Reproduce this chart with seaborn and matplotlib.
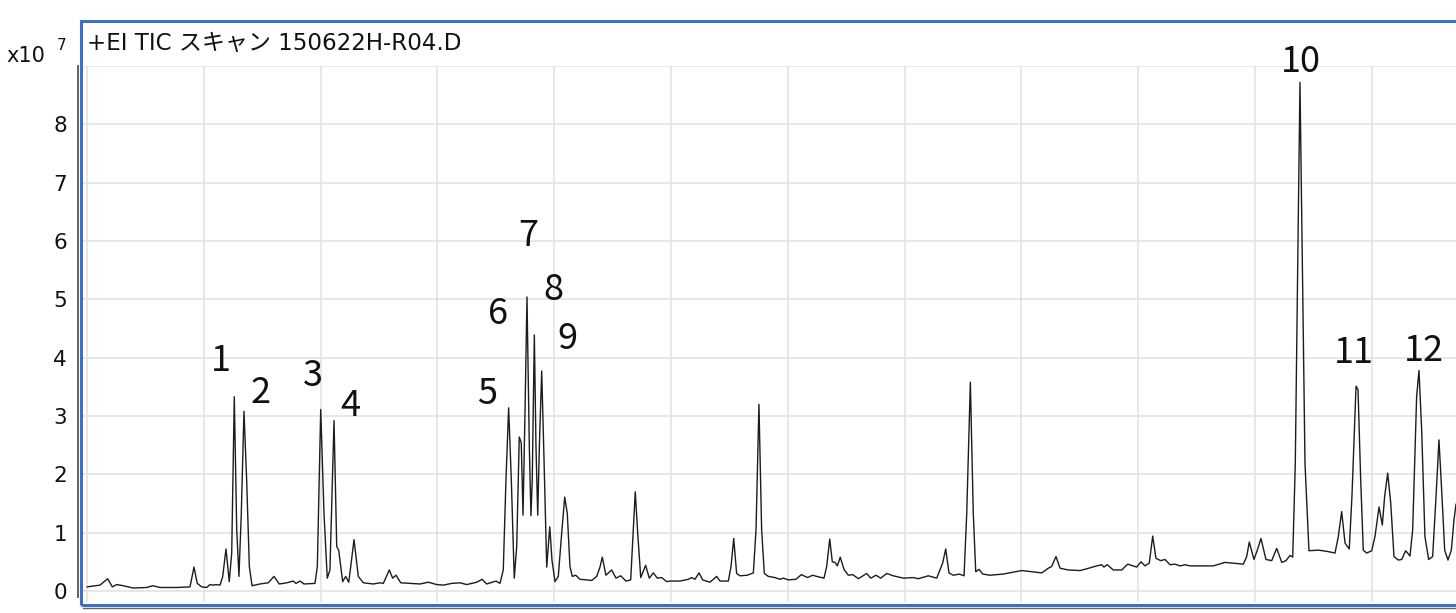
import matplotlib
matplotlib.use("Agg")
import matplotlib.pyplot as plt
from matplotlib.patches import Rectangle
import pandas as pd
import seaborn as sns

# ---------------- data ----------------
# retention time (min, grid lines at whole minutes) and TIC intensity (x10^7)
rt_min = [
    4.000, 4.111, 4.177, 4.217, 4.254, 4.311, 4.396, 4.511, 4.562, 4.625,
    4.768, 4.882, 4.916, 4.944, 4.982, 5.025, 5.053, 5.081, 5.104, 5.139,
    5.162, 5.190, 5.218, 5.239, 5.261, 5.282, 5.301, 5.321, 5.344, 5.367,
    5.390, 5.413, 5.481, 5.552, 5.601, 5.646, 5.710, 5.766, 5.789, 5.824,
    5.858, 5.952, 5.972, 6.001, 6.029, 6.057, 6.080, 6.115, 6.138, 6.155,
    6.189, 6.215, 6.241, 6.260, 6.286, 6.323, 6.366, 6.451, 6.509,
    6.537, 6.588, 6.617, 6.646, 6.686, 6.765, 6.851, 6.922, 6.994, 7.051,
    7.122, 7.193, 7.251, 7.337, 7.382, 7.422, 7.502, 7.536, 7.564, 7.587,
    7.610, 7.633, 7.658, 7.679, 7.701, 7.718, 7.733, 7.750, 7.767, 7.787,
    7.801, 7.812, 7.830, 7.844, 7.859, 7.873, 7.893, 7.910, 7.936, 7.962,
    7.981, 8.007, 8.035, 8.064, 8.090, 8.112, 8.135, 8.155, 8.184, 8.221,
    8.278, 8.321, 8.364, 8.392, 8.412, 8.443, 8.492, 8.529, 8.569, 8.615,
    8.655, 8.677, 8.694, 8.715, 8.741, 8.783, 8.814, 8.849, 8.883, 8.920,
    8.963,
    8.991, 9.077, 9.148, 9.177, 9.205, 9.240, 9.271, 9.334, 9.391, 9.419,
    9.491, 9.514, 9.537, 9.562, 9.591, 9.653, 9.705, 9.728, 9.753, 9.776,
    9.799, 9.833, 9.890, 9.933, 9.961, 10.004, 10.070, 10.116, 10.170, 10.213,
    10.247, 10.310, 10.333, 10.359, 10.381, 10.404, 10.424, 10.449, 10.481, 10.518,
    10.556, 10.604, 10.675, 10.710, 10.755, 10.795, 10.847, 10.903, 10.989, 11.074,
    11.117, 11.203, 11.275, 11.326, 11.352, 11.380, 11.417, 11.468, 11.509, 11.532,
    11.563, 11.588, 11.609, 11.637, 11.669, 11.731, 11.845, 12.003, 12.174, 12.230,
    12.259, 12.296, 12.331, 12.402, 12.502, 12.559, 12.645, 12.687, 12.707, 12.735,
    12.787, 12.859, 12.910, 12.987, 13.024, 13.058, 13.095, 13.124, 13.152, 13.193,
    13.229, 13.273, 13.315, 13.358, 13.401, 13.443, 13.643, 13.743, 13.900, 13.929,
    13.951, 13.991, 14.020, 14.051, 14.094, 14.143, 14.186, 14.229, 14.265, 14.300,
    14.323, 14.345, 14.385, 14.428, 14.462, 14.542, 14.614, 14.685, 14.713, 14.742,
    14.771, 14.807, 14.830, 14.865, 14.882, 14.905, 14.927, 14.956, 14.999, 15.027,
    15.062, 15.090, 15.110, 15.136, 15.162, 15.190, 15.227, 15.256, 15.290, 15.327,
    15.350, 15.384, 15.404, 15.427, 15.455, 15.487, 15.521, 15.550, 15.575, 15.601,
    15.624, 15.652, 15.681, 15.704, 15.721,
]
tic_e7 = [
    0.07, 0.10, 0.21, 0.07, 0.11, 0.09, 0.05, 0.06, 0.09, 0.06,
    0.06, 0.07, 0.41, 0.13, 0.07, 0.06, 0.11, 0.10, 0.11, 0.10,
    0.25, 0.72, 0.16, 0.65, 3.33, 1.05, 0.25, 1.33, 3.08, 1.90,
    0.42, 0.09, 0.12, 0.14, 0.25, 0.12, 0.14, 0.17, 0.13, 0.17,
    0.12, 0.13, 0.42, 3.11, 1.34, 0.22, 0.36, 2.92, 0.76, 0.70,
    0.16, 0.25, 0.15, 0.45, 0.88, 0.25, 0.14, 0.12, 0.14,
    0.13, 0.36, 0.22, 0.27, 0.14, 0.13, 0.12, 0.15, 0.11, 0.10,
    0.13, 0.14, 0.11, 0.15, 0.20, 0.12, 0.17, 0.13, 0.36, 1.90,
    3.14, 1.90, 0.22, 0.76, 2.64, 2.54, 1.30, 3.06, 5.04, 2.48,
    1.29, 1.90, 4.39, 2.48, 1.30, 2.48, 3.77, 2.48, 0.41, 1.10,
    0.53, 0.16, 0.25, 0.99, 1.61, 1.33, 0.42, 0.25, 0.27, 0.20,
    0.19, 0.18, 0.25, 0.41, 0.58, 0.27, 0.36, 0.22, 0.26, 0.17,
    0.19, 1.05, 1.70, 0.99, 0.23, 0.44, 0.22, 0.31, 0.22, 0.23,
    0.16,
    0.17, 0.17, 0.20, 0.23, 0.20, 0.31, 0.19, 0.15, 0.25, 0.17,
    0.17, 0.42, 0.90, 0.30, 0.26, 0.27, 0.31, 1.05, 3.20, 1.05,
    0.30, 0.25, 0.23, 0.20, 0.22, 0.19, 0.20, 0.28, 0.23, 0.27,
    0.25, 0.22, 0.42, 0.89, 0.50, 0.49, 0.43, 0.58, 0.37, 0.27,
    0.28, 0.21, 0.30, 0.22, 0.27, 0.22, 0.30, 0.26, 0.22, 0.23,
    0.21, 0.26, 0.22, 0.48, 0.72, 0.31, 0.27, 0.29, 0.26, 1.33,
    3.58, 1.33, 0.33, 0.37, 0.29, 0.27, 0.29, 0.35, 0.31, 0.39,
    0.42, 0.59, 0.39, 0.36, 0.35, 0.38, 0.43, 0.45, 0.41, 0.45,
    0.36, 0.36, 0.46, 0.41, 0.50, 0.43, 0.48, 0.94, 0.56, 0.52,
    0.54, 0.45, 0.46, 0.43, 0.45, 0.43, 0.43, 0.49, 0.46, 0.59,
    0.84, 0.54, 0.70, 0.90, 0.54, 0.52, 0.73, 0.49, 0.52, 0.61,
    0.58, 2.19, 8.72, 2.19, 0.69, 0.70, 0.68, 0.65, 0.93, 1.36,
    0.82, 0.72, 1.62, 3.51, 3.45, 1.90, 0.70, 0.65, 0.69, 0.93,
    1.44, 1.13, 1.62, 2.02, 1.51, 0.59, 0.53, 0.54, 0.69, 0.60,
    1.05, 3.34, 3.78, 2.76, 0.93, 0.54, 0.59, 1.62, 2.59, 1.62,
    0.70, 0.53, 0.70, 1.22, 1.49,
]

peak_ids = ["1", "2", "3", "4", "5", "6", "7", "8", "9", "10", "11", "12"]
peak_label_rt = [5.147, 5.487, 5.932, 6.252, 7.427, 7.521, 7.776, 7.992, 8.116, 14.392, 14.848, 15.447]
peak_label_y = [3.765, 3.222, 3.519, 2.992, 3.21, 4.58, 5.911, 4.996, 4.15, 8.90, 3.90, 3.95]

y_ticks = [0, 1, 2, 3, 4, 5, 6, 7, 8, 9]
y_tick_labels = ["0", "1", "2", "3", "4", "5", "6", "7", "8", ""]
x_ticks = [4, 5, 6, 7, 8, 9, 10, 11, 12, 13, 14, 15]
title_text = "+EI TIC スキャン 150622H-R04.D"
scale_text = "x10"
scale_exp = "7"

# ---------------- style ----------------
sns.set_style("white")
plt.rcParams["font.family"] = ["Noto Sans CJK JP", "DejaVu Sans"]
latin_first = ["DejaVu Sans", "Noto Sans CJK JP"]

W, H = 1456, 613
fig = plt.figure(figsize=(W / 100, H / 100), dpi=100)


def fx(px):
    return px / W


def fy(py):
    return 1 - py / H


ax = fig.add_axes([fx(83), fy(602), fx(1456) - fx(83), fy(66) - fy(602)])

df = pd.DataFrame({"rt": rt_min, "tic": tic_e7})
sns.lineplot(data=df, x="rt", y="tic", ax=ax, color="#1c1c1c", linewidth=1.0,
             estimator=None, sort=False)

ax.set_xlim(3.9658, 15.7209)
ax.set_ylim(-0.189, 9.0)
ax.set_xticks(x_ticks)
ax.set_yticks(y_ticks)
ax.set_yticklabels(y_tick_labels)
ax.set_xlabel("")
ax.set_ylabel("")
ax.grid(True, color="#e3e3e3", linewidth=1.2)
ax.set_axisbelow(True)

for s in ["top", "right"]:
    ax.spines[s].set_visible(False)
ax.spines["left"].set_position(("outward", 3.6))
ax.spines["left"].set_bounds(-0.10, 9.0)
ax.spines["left"].set_color("#555555")
ax.spines["left"].set_linewidth(1.3)
ax.spines["bottom"].set_position(("outward", 4.3))
ax.spines["bottom"].set_color("#666666")
ax.spines["bottom"].set_linewidth(1.0)

ax.tick_params(axis="y", direction="out", length=4, width=1, color="#555555",
               labelsize=16, pad=4, labelcolor="#111111")
ax.tick_params(axis="x", direction="out", length=6, width=1, color="#555555",
               labelbottom=False)
for lab in ax.get_yticklabels():
    lab.set_family(latin_first)
    lab.set_fontsize(15.5)

for pid, xr, yr in zip(peak_ids, peak_label_rt, peak_label_y):
    ax.text(xr, yr, pid, ha="center", va="baseline", fontsize=26,
            color="#111111", clip_on=False)

# blue frame around the chart panel
fig.add_artist(Rectangle((fx(81), fy(604.8)), fx(1480) - fx(81), fy(20.5) - fy(604.8),
                         transform=fig.transFigure, fill=False,
                         edgecolor="#3f6fc6", linewidth=2.2, zorder=5))

fig.text(fx(87), fy(50), title_text, fontsize=16.6, ha="left", va="baseline",
         color="#111111", family=latin_first)
fig.text(fx(6.5), fy(61.7), scale_text, fontsize=15, ha="left", va="baseline",
         color="#111111", family=latin_first)
fig.text(fx(57), fy(50), scale_exp, fontsize=11, ha="left", va="baseline",
         color="#111111", family=latin_first)

fig.savefig("out.png", dpi=100)
